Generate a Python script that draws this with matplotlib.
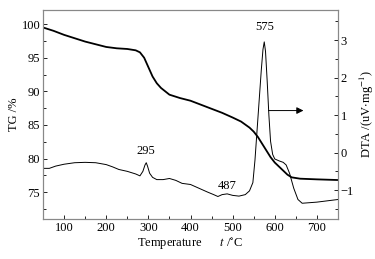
import matplotlib
matplotlib.use("Agg")
import matplotlib.pyplot as plt

plt.rcParams['font.family'] = ['Liberation Serif', 'DejaVu Serif']
plt.rcParams['font.size'] = 9
plt.rcParams['mathtext.fontset'] = 'stix'

# TG curve (left axis, %)
tg_t = [50, 75, 100, 125, 150, 175, 200, 225, 250, 270, 280, 290, 300, 310, 320, 330,
        340, 350, 375, 400, 425, 450, 475, 500, 520, 540, 550, 560, 570, 580, 590,
        600, 610, 620, 630, 640, 660, 700, 750]
tg_v = [99.5, 99.0, 98.4, 97.9, 97.4, 97.0, 96.6, 96.4, 96.3, 96.1, 95.8, 95.0, 93.6, 92.2,
        91.2, 90.5, 90.0, 89.5, 89.0, 88.6, 88.0, 87.4, 86.8, 86.1, 85.5, 84.6, 84.0,
        83.2, 82.2, 81.2, 80.2, 79.4, 78.8, 78.2, 77.6, 77.2, 77.0, 76.9, 76.8]

# DTA curve (right axis, uV/mg)
dta_t = [50, 65, 80, 100, 125, 150, 175, 200, 215, 230, 250, 270, 280, 287, 292, 295,
         298, 303, 310, 320, 335, 350, 365, 380, 400, 420, 440, 455, 465, 475, 487,
         500, 515, 530, 540, 548, 553, 558, 563, 568, 572, 575, 578, 582, 586, 590,
         595, 600, 610, 620, 627, 635, 645, 655, 665, 700, 750]
dta_v = [-0.42, -0.42, -0.36, -0.31, -0.27, -0.26, -0.27, -0.32, -0.38, -0.45, -0.50,
         -0.57, -0.62, -0.50, -0.33, -0.27, -0.36, -0.55, -0.66, -0.72, -0.72, -0.69,
         -0.74, -0.82, -0.85, -0.95, -1.05, -1.12, -1.17, -1.12, -1.10, -1.14, -1.16,
         -1.12, -1.02, -0.80, -0.20, 0.60, 1.40, 2.20, 2.75, 2.95, 2.70, 1.90, 1.00,
         0.30, -0.05, -0.17, -0.22, -0.26, -0.33, -0.55, -0.95, -1.25, -1.35, -1.32, -1.25]

fig = plt.figure(figsize=(3.75, 2.59), dpi=100)
ax = fig.add_axes([0.1147, 0.1544, 0.7866, 0.8070])
ax2 = ax.twinx()

ax.plot(tg_t, tg_v, color='black', lw=1.3)
ax2.plot(dta_t, dta_v, color='black', lw=0.7)

ax.set_xlim(50, 750)
ax.set_ylim(71, 102.1)
ax2.set_ylim(-1.77, 3.8)

ax.set_xticks([100, 200, 300, 400, 500, 600, 700])
ax.set_xticks(range(50, 751, 50), minor=True)
ax.set_yticks([75, 80, 85, 90, 95, 100])
ax.set_yticks([x * 2.5 for x in range(29, 41)], minor=True)
ax2.set_yticks([-1, 0, 1, 2, 3])
ax2.set_yticks([-1.5, -0.5, 0.5, 1.5, 2.5, 3.5], minor=True)

for a in (ax, ax2):
    a.tick_params(which='both', direction='in', length=3, width=0.6, pad=2)
    a.tick_params(which='minor', length=2)
    for s in a.spines.values():
        s.set_color('#888888')
        s.set_linewidth(0.8)

ax.set_ylabel('TG /%', labelpad=1)
ax2.set_ylabel(r'DTA /(uV$\cdot$mg$^{-1}$)', labelpad=3)
ax.set_xlabel(r'Temperature      $t$ /$^{\circ}$C', labelpad=2)

ax2.text(575, 3.2, '575', ha='center', va='bottom')
ax2.text(295, -0.12, '295', ha='center', va='bottom')
ax2.text(487, -1.05, '487', ha='center', va='bottom')
ax2.annotate('', xy=(668, 1.12), xytext=(585, 1.12),
             arrowprops=dict(arrowstyle='-|>', color='black', lw=0.7,
                             mutation_scale=10, shrinkA=0, shrinkB=0))

fig.savefig('out.png', dpi=100)
